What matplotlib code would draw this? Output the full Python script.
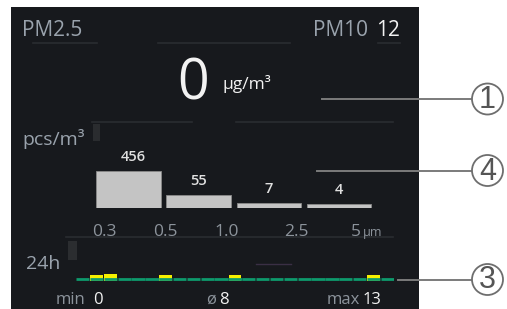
import matplotlib
matplotlib.use("Agg")
import matplotlib.pyplot as plt
import matplotlib.patches as mpatches
import matplotlib.transforms as mtrans
import numpy as np

plt.rcParams['font.family'] = ['Open Sans', 'DejaVu Sans']

# ---------------- data ----------------
pm25_value = 0
pm10_value = 12
size_bins = ["0.3", "0.5", "1.0", "2.5", "5"]
particle_counts = [456, 55, 7, 4]
hourly_pm = [0, 12, 13, 7, 7, 7, 12, 7, 6, 7, 7, 12, 7, 7, 7, 6, 7, 7, 7, 7, 7, 12, 7]
callout_numbers = ["1", "4", "3"]

# ---------------- style ----------------
W, H = 507, 309
BG = "#17191d"
GRAY = "#9aa3ad"
WHITE = "#f2f2f2"
FAINT = "#2a2d31"

fig = plt.figure(figsize=(W / 100, H / 100), dpi=100)
fig.patch.set_facecolor("white")

bg = fig.add_axes([0, 0, 1, 1])
bg.set_xlim(0, W)
bg.set_ylim(H, 0)
bg.axis("off")

def px_axes(x0, y0, x1, y1):
    return fig.add_axes([x0 / W, 1 - y1 / H, (x1 - x0) / W, (y1 - y0) / H])

# panel
bg.add_patch(mpatches.Rectangle((11, 7), 408, 310, facecolor=BG, edgecolor="none", zorder=0))

# faint separator artifacts
for y, x0, x1 in [(43, 33, 97), (43, 158, 290), (43, 378, 400),
                  (121.5, 92, 192), (121.5, 236, 393), (236.5, 66, 393)]:
    bg.plot([x0, x1], [y, y], color=FAINT, lw=1.2, zorder=1)
bg.add_patch(mpatches.Rectangle((93, 124), 7, 17, facecolor="#2a2c2f", edgecolor="none", zorder=1))
bg.add_patch(mpatches.Rectangle((68, 241), 9, 19, facecolor="#2b2d30", edgecolor="none", zorder=1))
bg.plot([256, 291], [264, 264], color="#3a2f45", lw=1, zorder=1)

# header texts
bg.text(22, 36, "PM2.5", color=GRAY, fontsize=15, ha="left", va="baseline")
bg.text(368, 36, "PM10", color=GRAY, fontsize=15, ha="right", va="baseline")
bg.text(400, 36, f"{pm10_value}", color=WHITE, fontsize=15, ha="right", va="baseline")
bg.text(193, 99, f"{pm25_value}", color=WHITE, fontsize=40, ha="center", va="baseline")
bg.text(222, 89, "µg/m³", color=WHITE, fontsize=12.5, ha="left", va="baseline")
bg.text(22, 145, "pcs/m³", color=GRAY, fontsize=14, ha="left", va="baseline")
bg.text(26, 269, "24h", color=GRAY, fontsize=14, ha="left", va="baseline")

# ---------------- particle size bars ----------------
bax = px_axes(96, 150, 377, 207.5)
bax.set_facecolor("none")
xs = np.arange(len(particle_counts))
bax.bar(xs, particle_counts, width=0.92, align="edge", color="#c4c4c4",
        edgecolor="#8a8a8a", linewidth=0.6)
bax.set_yscale("function", functions=(np.sqrt, np.square))
bax.set_ylim(0, max(particle_counts) * (57.5 / 37) ** 2)
bax.set_xlim(0, len(particle_counts))
bax.axis("off")
for x, v in zip(xs, particle_counts):
    bax.annotate(f"{v}", (x + 0.46 + (0.07 if v == max(particle_counts) else 0), v),
                 xytext=(0, 5), textcoords="offset points", ha="center", va="bottom",
                 color="#e0e0e0", fontsize=10.5, fontweight="semibold")
tick_nudge_px = [8, -1, -10, -10, -21]
for i, (lab, nud) in enumerate(zip(size_bins, tick_nudge_px)):
    tr = mtrans.blended_transform_factory(bax.transData, bax.transAxes) + \
        mtrans.ScaledTranslation(nud / 100, 0, fig.dpi_scale_trans)
    bax.text(i, -0.5, lab, transform=tr, ha="center", va="baseline",
             color="#8c939b", fontsize=12.5, clip_on=False)
tr = mtrans.blended_transform_factory(bax.transData, bax.transAxes) + \
    mtrans.ScaledTranslation(-14 / 100, 0, fig.dpi_scale_trans)
bax.text(len(size_bins) - 1, -0.5, "µm", transform=tr, ha="left", va="baseline",
         color="#8c939b", fontsize=9, clip_on=False)

# ---------------- 24h strip ----------------
hax = px_axes(75.7, 265, 75.7 + 13.85 * len(hourly_pm), 285)
hax.set_facecolor("none")
hax.set_xlim(-0.5, len(hourly_pm) - 0.5)
hax.set_ylim(5.94, 18.44)
hax.axis("off")
GREEN_LEVEL, BAR_FLOOR, THRESH = 9.5, 8.6, 10
hx = np.arange(len(hourly_pm))
hax.hlines([GREEN_LEVEL] * len(hx), hx - 0.48, hx + 0.48, color="#0e9a6c", lw=2)
hv = np.array(hourly_pm, dtype=float)
hi = hv >= THRESH
hax.bar(hx[hi], hv[hi] - BAR_FLOOR, bottom=BAR_FLOOR, width=0.92, color="#f5ef00",
        edgecolor="none")

# min / mean / max
bg.text(56, 303.5, "min", color="#8c939b", fontsize=12, ha="left", va="baseline")
bg.text(93, 303.5, f"{min(hourly_pm)}", color=WHITE, fontsize=12, ha="left", va="baseline")
bg.text(206, 303.5, "ø", color="#8c939b", fontsize=12, ha="left", va="baseline")
bg.text(219, 303.5, f"{round(np.mean(hourly_pm))}", color=WHITE, fontsize=12, ha="left", va="baseline")
bg.text(360, 303.5, "max", color="#8c939b", fontsize=12, ha="right", va="baseline")
bg.text(363, 303.5, f"{max(hourly_pm)}", color=WHITE, fontsize=12, ha="left", va="baseline")

# ---------------- callouts ----------------
for (x0, y), num in zip([(322, 99), (317, 170.5), (398, 279.5)], callout_numbers):
    bg.plot([x0, 472], [y, y], color="#7b7b7b", lw=1.4, zorder=3)
    bg.add_patch(mpatches.Circle((487.5, y), 15.5, facecolor="white", edgecolor="#6e6e6e",
                                 lw=1.3, zorder=4))
    bg.text(487.5, y + 1, num, color="#555555", fontsize=22, ha="center", va="center",
            family="Liberation Sans", zorder=5)

fig.savefig("out.png", dpi=100, facecolor="white")
